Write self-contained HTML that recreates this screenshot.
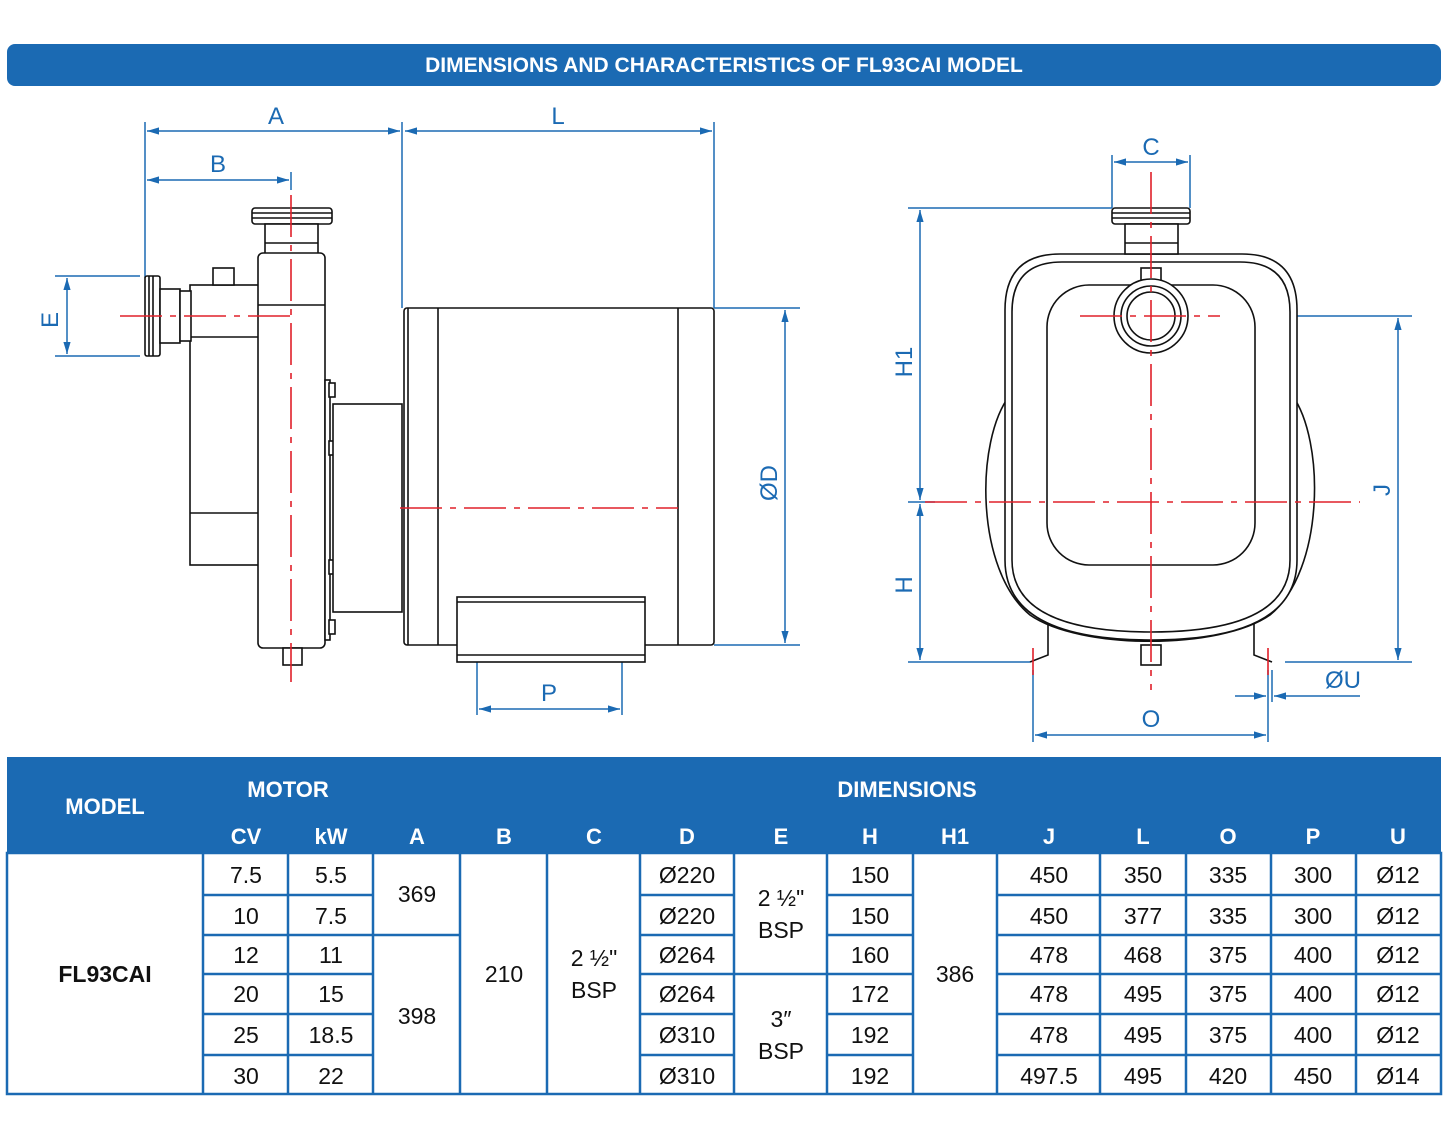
<!DOCTYPE html>
<html><head><meta charset="utf-8"><style>
body{margin:0;background:#fff;width:1446px;height:1137px;overflow:hidden;font-family:"Liberation Sans",sans-serif}
svg{position:absolute;left:0;top:0}
</style></head><body>
<svg width="1446" height="1137" viewBox="0 0 1446 1137" font-family="Liberation Sans, sans-serif">
<defs>
<marker id="ar" viewBox="0 0 10 10" refX="10" refY="5" markerWidth="10" markerHeight="8" orient="auto-start-reverse"><path d="M0,2 L10,5 L0,8 z" fill="#1b6ab3"/></marker>
</defs>
<rect x="7" y="44" width="1434" height="42" rx="8" fill="#1b6ab3"/>
<text x="724" y="72" text-anchor="middle" fill="#fff" font-weight="bold" font-size="21">DIMENSIONS AND CHARACTERISTICS OF FL93CAI MODEL</text>

<g stroke="#1b6ab3" stroke-width="1.5" fill="none">
<line x1="145" y1="122" x2="145" y2="278"/><line x1="402" y1="122" x2="402" y2="308"/><line x1="714" y1="122" x2="714" y2="308"/>
<line x1="291" y1="172" x2="291" y2="190"/>
<line x1="147" y1="131" x2="400" y2="131" marker-start="url(#ar)" marker-end="url(#ar)"/>
<line x1="405" y1="131" x2="712" y2="131" marker-start="url(#ar)" marker-end="url(#ar)"/>
<line x1="147" y1="180" x2="289" y2="180" marker-start="url(#ar)" marker-end="url(#ar)"/>
<line x1="55" y1="276" x2="140" y2="276"/><line x1="55" y1="356" x2="140" y2="356"/>
<line x1="67" y1="278" x2="67" y2="354" marker-start="url(#ar)" marker-end="url(#ar)"/>
<line x1="714" y1="308" x2="800" y2="308"/><line x1="714" y1="645" x2="800" y2="645"/>
<line x1="785" y1="310" x2="785" y2="643" marker-start="url(#ar)" marker-end="url(#ar)"/>
<line x1="477" y1="650" x2="477" y2="715"/><line x1="622" y1="650" x2="622" y2="715"/>
<line x1="479" y1="709" x2="620" y2="709" marker-start="url(#ar)" marker-end="url(#ar)"/>
<line x1="908" y1="208" x2="1112" y2="208"/><line x1="908" y1="662" x2="1030" y2="662"/><line x1="908" y1="502" x2="935" y2="502"/>
<line x1="920" y1="210" x2="920" y2="500" marker-start="url(#ar)" marker-end="url(#ar)"/>
<line x1="920" y1="504" x2="920" y2="660" marker-start="url(#ar)" marker-end="url(#ar)"/>
<line x1="1112" y1="155" x2="1112" y2="208"/><line x1="1190" y1="155" x2="1190" y2="208"/>
<line x1="1114" y1="162" x2="1188" y2="162" marker-start="url(#ar)" marker-end="url(#ar)"/>
<line x1="1220" y1="316" x2="1412" y2="316"/><line x1="1285" y1="662" x2="1412" y2="662"/>
<line x1="1398" y1="318" x2="1398" y2="660" marker-start="url(#ar)" marker-end="url(#ar)"/>
<line x1="1033" y1="670" x2="1033" y2="742"/><line x1="1268" y1="670" x2="1268" y2="742"/>
<line x1="1035" y1="735" x2="1266" y2="735" marker-start="url(#ar)" marker-end="url(#ar)"/>
<line x1="1272" y1="670" x2="1272" y2="702"/>
<line x1="1235" y1="696" x2="1266" y2="696" marker-end="url(#ar)"/>
<line x1="1360" y1="696" x2="1274" y2="696" marker-end="url(#ar)"/>
</g>
<g fill="#1b6ab3" font-size="24" text-anchor="middle">
<text x="276" y="124">A</text><text x="558" y="124">L</text><text x="218" y="172">B</text>
<text x="549" y="701">P</text><text x="1151" y="155">C</text><text x="1151" y="727">O</text><text x="1343" y="688">ØU</text>
<text transform="translate(58,320) rotate(-90)">E</text>
<text transform="translate(777,483) rotate(-90)">ØD</text>
<text transform="translate(912,362) rotate(-90)">H1</text>
<text transform="translate(912,585) rotate(-90)">H</text>
<text transform="translate(1390,490) rotate(-90)">J</text>
</g>

<g stroke="#111" stroke-width="1.6" fill="#fff">
<rect x="252" y="208" width="80" height="16" rx="3"/>
<line x1="252" y1="213" x2="332" y2="213"/><line x1="252" y1="218" x2="332" y2="218"/>
<rect x="265" y="224" width="53" height="30"/>
<line x1="265" y1="243" x2="318" y2="243"/>
<rect x="190" y="285" width="70" height="280"/>
<line x1="190" y1="337" x2="260" y2="337"/><line x1="190" y1="513" x2="260" y2="513"/>
<rect x="213" y="268" width="21" height="17"/>
<rect x="145" y="276" width="15" height="80" rx="2"/>
<line x1="149" y1="276" x2="149" y2="356"/><line x1="153" y1="276" x2="153" y2="356"/>
<rect x="160" y="289" width="20" height="54"/><rect x="180" y="291" width="11" height="50"/>
<rect x="258" y="253" width="67" height="395" rx="5"/>
<line x1="258" y1="305" x2="325" y2="305"/>
<rect x="283" y="648" width="19" height="17"/>
<rect x="325" y="380" width="5" height="260"/>
<rect x="329" y="383" width="6" height="14"/><rect x="329" y="441" width="6" height="14"/><rect x="329" y="560" width="6" height="14"/><rect x="329" y="620" width="6" height="14"/>
<rect x="333" y="404" width="69" height="208"/>
<rect x="404" y="308" width="310" height="337" rx="3"/>
<line x1="438" y1="308" x2="438" y2="645"/><line x1="678" y1="308" x2="678" y2="645"/><line x1="408" y1="308" x2="408" y2="645"/>
<rect x="457" y="597" width="188" height="65"/>
<line x1="457" y1="602" x2="645" y2="602"/><line x1="457" y1="655" x2="645" y2="655"/>
</g>

<g stroke="#111" stroke-width="1.6" fill="#fff">
<path d="M1048,612 L1048,655 L1030,662 M1254,612 L1254,655 L1272,662" fill="none"/>
<path d="M1010,395 C975,440 975,570 1030,615 C1080,650 1220,650 1270,615 C1325,570 1325,440 1292,395 Z"/>
<path d="M1005,560 L1005,310 Q1005,254 1060,254 L1242,254 Q1297,254 1297,310 L1297,560 Q1297,640 1151,640 Q1005,640 1005,560 Z"/>
<path d="M1012,560 L1012,312 Q1012,262 1062,262 L1240,262 Q1290,262 1290,312 L1290,560 Q1290,632 1151,632 Q1012,632 1012,560 Z" fill="none"/>
<rect x="1047" y="285" width="208" height="280" rx="42"/>
<rect x="1141" y="268" width="20" height="14"/>
<circle cx="1151" cy="316" r="37"/><circle cx="1151" cy="316" r="30"/><circle cx="1151" cy="316" r="24"/>
<rect x="1112" y="208" width="78" height="16" rx="3"/>
<line x1="1112" y1="213" x2="1190" y2="213"/><line x1="1112" y1="218" x2="1190" y2="218"/>
<rect x="1125" y="224" width="53" height="30"/><line x1="1125" y1="243" x2="1178" y2="243"/>
<rect x="1141" y="645" width="20" height="20"/>
</g>

<g stroke="#e0202a" stroke-width="1.6" fill="none" stroke-dasharray="42,8,6,8">
<line x1="291" y1="195" x2="291" y2="682"/>
<line x1="120" y1="316" x2="291" y2="316"/>
<line x1="400" y1="508" x2="678" y2="508"/>
<line x1="1151" y1="172" x2="1151" y2="690"/>
<line x1="925" y1="502" x2="1360" y2="502"/>
<line x1="1080" y1="316" x2="1220" y2="316"/>
<line x1="1033" y1="648" x2="1033" y2="675"/>
<line x1="1268" y1="648" x2="1268" y2="675"/>
</g>

<rect x="7" y="757" width="1434" height="96" fill="#1b6ab3"/>
<g fill="#fff" font-weight="bold" font-size="22" text-anchor="middle">
<text x="105" y="814">MODEL</text><text x="288" y="797">MOTOR</text><text x="907" y="797">DIMENSIONS</text>
<text x="246" y="844">CV</text><text x="331" y="844">kW</text><text x="417" y="844">A</text><text x="504" y="844">B</text><text x="594" y="844">C</text><text x="687" y="844">D</text><text x="781" y="844">E</text><text x="870" y="844">H</text><text x="955" y="844">H1</text><text x="1049" y="844">J</text><text x="1143" y="844">L</text><text x="1228" y="844">O</text><text x="1313" y="844">P</text><text x="1398" y="844">U</text>
</g>
<g stroke="#1b6ab3" stroke-width="2.5" fill="none">
<rect x="7" y="853" width="1434" height="241"/>
<path d="M203,853V1094 M288,853V1094 M373,853V1094 M460,853V1094 M547,853V1094 M640,853V1094 M734,853V1094 M827,853V1094 M913,853V1094 M997,853V1094 M1100,853V1094 M1186,853V1094 M1271,853V1094 M1356,853V1094"/>
<path d="M203,895H373 M203,935H460 M203,974H373 M203,1014H373 M203,1055H373"/>
<path d="M640,895H734 M640,935H734 M640,974H734 M640,1014H734 M640,1055H734"/>
<path d="M734,974H827"/>
<path d="M827,895H913 M827,935H913 M827,974H913 M827,1014H913 M827,1055H913"/>
<path d="M997,895H1441 M997,935H1441 M997,974H1441 M997,1014H1441 M997,1055H1441"/>
</g>
<g fill="#111" font-size="23" text-anchor="middle">
<text x="105" y="982" font-weight="bold">FL93CAI</text>
<text x="246" y="883">7.5</text><text x="246" y="924">10</text><text x="246" y="963">12</text><text x="246" y="1002">20</text><text x="246" y="1043">25</text><text x="246" y="1084">30</text>
<text x="331" y="883">5.5</text><text x="331" y="924">7.5</text><text x="331" y="963">11</text><text x="331" y="1002">15</text><text x="331" y="1043">18.5</text><text x="331" y="1084">22</text>
<text x="417" y="902">369</text><text x="417" y="1024">398</text>
<text x="504" y="982">210</text>
<text x="594" y="966">2 ½"</text><text x="594" y="998">BSP</text>
<text x="687" y="883">Ø220</text><text x="687" y="924">Ø220</text><text x="687" y="963">Ø264</text><text x="687" y="1002">Ø264</text><text x="687" y="1043">Ø310</text><text x="687" y="1084">Ø310</text>
<text x="781" y="906">2 ½"</text><text x="781" y="938">BSP</text><text x="781" y="1027">3″</text><text x="781" y="1059">BSP</text>
<text x="870" y="883">150</text><text x="870" y="924">150</text><text x="870" y="963">160</text><text x="870" y="1002">172</text><text x="870" y="1043">192</text><text x="870" y="1084">192</text>
<text x="955" y="982">386</text>
<text x="1049" y="883">450</text><text x="1049" y="924">450</text><text x="1049" y="963">478</text><text x="1049" y="1002">478</text><text x="1049" y="1043">478</text><text x="1049" y="1084">497.5</text>
<text x="1143" y="883">350</text><text x="1143" y="924">377</text><text x="1143" y="963">468</text><text x="1143" y="1002">495</text><text x="1143" y="1043">495</text><text x="1143" y="1084">495</text>
<text x="1228" y="883">335</text><text x="1228" y="924">335</text><text x="1228" y="963">375</text><text x="1228" y="1002">375</text><text x="1228" y="1043">375</text><text x="1228" y="1084">420</text>
<text x="1313" y="883">300</text><text x="1313" y="924">300</text><text x="1313" y="963">400</text><text x="1313" y="1002">400</text><text x="1313" y="1043">400</text><text x="1313" y="1084">450</text>
<text x="1398" y="883">Ø12</text><text x="1398" y="924">Ø12</text><text x="1398" y="963">Ø12</text><text x="1398" y="1002">Ø12</text><text x="1398" y="1043">Ø12</text><text x="1398" y="1084">Ø14</text>
</g>
</svg>
</body></html>
